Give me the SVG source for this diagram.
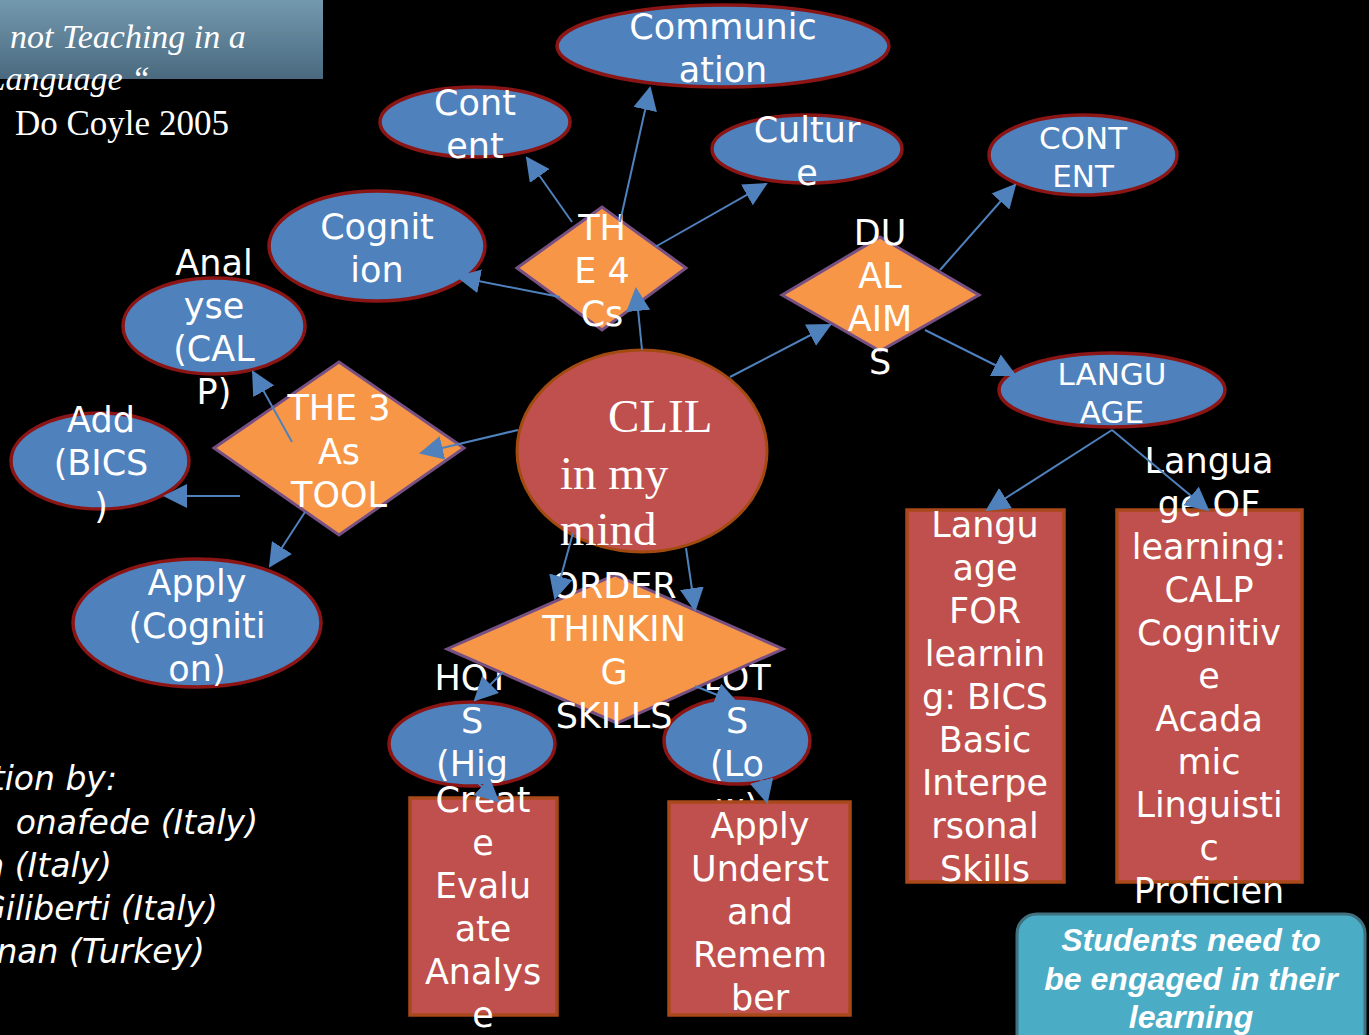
<svg xmlns="http://www.w3.org/2000/svg" width="1369" height="1035" viewBox="0 0 1369 1035">
<defs>
<linearGradient id="hdr" x1="0" y1="0" x2="0" y2="1">
<stop offset="0" stop-color="#7399ae"/>
<stop offset="1" stop-color="#4a697f"/>
</linearGradient>
<marker id="ah" markerWidth="12" markerHeight="12" refX="11" refY="6" orient="auto" markerUnits="strokeWidth">
<path d="M0,0 L12,6 L0,12 z" fill="#4f81bd"/>
</marker>
<style>
.t{font-family:"DejaVu Sans",sans-serif;fill:#fff;font-size:35px;text-anchor:middle}
.s{font-size:31px}
.ell{fill:#4f81bd;stroke:#8b1414;stroke-width:3.5}
.dia{fill:#f79646;stroke:#775083;stroke-width:3}
.box{fill:#c0504d;stroke:#a9481a;stroke-width:3.5}
.c line{stroke:#4f81bd;stroke-width:2;marker-end:url(#ah)}
.serif{font-family:"Liberation Serif",serif;fill:#fff}
.note{font-family:"DejaVu Sans",sans-serif;fill:#fff;font-size:33px;font-style:italic;text-anchor:end}
</style>
</defs>
<rect width="1369" height="1035" fill="#000"/>

<g id="header">
<rect x="0" y="0" width="323" height="79" fill="url(#hdr)"/>
<text class="serif" x="10" y="48" font-size="34" font-style="italic">not Teaching in a</text>
<text class="serif" x="150" y="90" font-size="34" font-style="italic" text-anchor="end">Language “</text>
<text class="serif" x="15" y="135" font-size="35">Do Coyle 2005</text>
</g>

<g id="credits">
<text class="note" x="117" y="790">tion by:</text>
<text class="note" x="258" y="834">onafede (Italy)</text>
<text class="note" x="112" y="877">a (Italy)</text>
<text class="note" x="218" y="920">Giliberti (Italy)</text>
<text class="note" x="205" y="963">nan (Turkey)</text>
</g>

<g id="communication">
<ellipse class="ell" cx="723" cy="46" rx="166" ry="41"/>
<text class="t" font-size="36"><tspan x="723" y="39">Communic</tspan><tspan x="723" y="82">ation</tspan></text>
</g>
<g id="content-top">
<ellipse class="ell" cx="475" cy="122" rx="95" ry="35"/>
<text class="t"><tspan x="475" y="115">Cont</tspan><tspan x="475" y="158">ent</tspan></text>
</g>
<g id="culture">
<ellipse class="ell" cx="807" cy="149" rx="95" ry="34"/>
<text class="t"><tspan x="807" y="142">Cultur</tspan><tspan x="807" y="185">e</tspan></text>
</g>
<g id="cognition">
<ellipse class="ell" cx="377" cy="246" rx="108" ry="55"/>
<text class="t" font-size="36"><tspan x="377" y="239">Cognit</tspan><tspan x="377" y="282">ion</tspan></text>
</g>
<g id="content-right">
<ellipse class="ell" cx="1083" cy="155" rx="94" ry="40"/>
<text class="t s"><tspan x="1083" y="149">CONT</tspan><tspan x="1083" y="187">ENT</tspan></text>
</g>
<g id="language">
<ellipse class="ell" cx="1112" cy="390" rx="113" ry="37"/>
<text class="t s"><tspan x="1112" y="385">LANGU</tspan><tspan x="1112" y="423">AGE</tspan></text>
</g>
<g id="analyse">
<ellipse class="ell" cx="214" cy="326" rx="91" ry="48"/>
<text class="t"><tspan x="214" y="275">Anal</tspan><tspan x="214" y="318">yse</tspan><tspan x="214" y="361">(CAL</tspan><tspan x="214" y="404">P)</tspan></text>
</g>
<g id="add">
<ellipse class="ell" cx="100" cy="461" rx="89" ry="48"/>
<text class="t"><tspan x="101" y="432">Add</tspan><tspan x="101" y="475">(BICS</tspan><tspan x="101" y="518">)</tspan></text>
</g>
<g id="apply-cog">
<ellipse class="ell" cx="197" cy="623" rx="124" ry="64"/>
<text class="t"><tspan x="197" y="595">Apply</tspan><tspan x="197" y="638">(Cogniti</tspan><tspan x="197" y="681">on)</tspan></text>
</g>
<g id="hots">
<ellipse class="ell" cx="472" cy="744" rx="83" ry="42"/>
<text class="t"><tspan x="472" y="690">HOT</tspan><tspan x="472" y="733">S</tspan><tspan x="472" y="776">(Hig</tspan></text>
</g>
<g id="lots">
<ellipse class="ell" cx="737" cy="741" rx="73" ry="43"/>
<text class="t"><tspan x="737" y="690">LOT</tspan><tspan x="737" y="733">S</tspan><tspan x="737" y="776">(Lo</tspan><tspan x="737" y="819">w)</tspan></text>
</g>

<g id="the4cs">
<polygon class="dia" points="517,268 602,207 686,268 602,330"/>
<text class="t"><tspan x="602" y="240">TH</tspan><tspan x="602" y="283">E 4</tspan><tspan x="602" y="326">Cs</tspan></text>
</g>
<g id="dualaims">
<polygon class="dia" points="782,295 880,237 979,295 880,351"/>
<text class="t"><tspan x="880" y="245">DU</tspan><tspan x="880" y="288">AL</tspan><tspan x="880" y="331">AIM</tspan><tspan x="880" y="374">S</tspan></text>
</g>
<g id="the3as">
<polygon class="dia" points="214,448 339,362 464,448 339,535"/>
<text class="t"><tspan x="339" y="420">THE 3</tspan><tspan x="339" y="464">As</tspan><tspan x="339" y="507">TOOL</tspan></text>
</g>
<g id="order">
<polygon class="dia" points="447,649 615,575 783,649 617,723"/>
<text class="t"><tspan x="614" y="598">ORDER</tspan><tspan x="614" y="641">THINKIN</tspan><tspan x="614" y="684">G</tspan><tspan x="614" y="728">SKILLS</tspan></text>
</g>

<g id="clil">
<ellipse cx="642" cy="451" rx="125" ry="101" fill="#c0504d" stroke="#a24a10" stroke-width="3"/>
<text class="serif" font-size="47"><tspan x="608" y="432">CLIL</tspan><tspan x="560" y="489">in my</tspan><tspan x="560" y="545">mind</tspan></text>
</g>

<g id="create-box">
<rect class="box" x="410" y="798" width="147" height="217"/>
<text class="t"><tspan x="483" y="812">Creat</tspan><tspan x="483" y="855">e</tspan><tspan x="483" y="898">Evalu</tspan><tspan x="483" y="941">ate</tspan><tspan x="483" y="984">Analys</tspan><tspan x="483" y="1027">e</tspan></text>
</g>
<g id="apply-box">
<rect class="box" x="669" y="802" width="181" height="213"/>
<text class="t"><tspan x="760" y="838">Apply</tspan><tspan x="760" y="881">Underst</tspan><tspan x="760" y="924">and</tspan><tspan x="760" y="967">Remem</tspan><tspan x="760" y="1010">ber</tspan></text>
</g>
<g id="lang-for">
<rect class="box" x="907" y="510" width="157" height="372"/>
<text class="t"><tspan x="985" y="537">Langu</tspan><tspan x="985" y="580">age</tspan><tspan x="985" y="623">FOR</tspan><tspan x="985" y="666">learnin</tspan><tspan x="985" y="709">g: BICS</tspan><tspan x="985" y="752">Basic</tspan><tspan x="985" y="795">Interpe</tspan><tspan x="985" y="838">rsonal</tspan><tspan x="985" y="881">Skills</tspan></text>
</g>
<g id="lang-of">
<rect class="box" x="1117" y="510" width="185" height="372"/>
<text class="t"><tspan x="1209" y="473">Langua</tspan><tspan x="1209" y="516">ge OF</tspan><tspan x="1209" y="559">learning:</tspan><tspan x="1209" y="602">CALP</tspan><tspan x="1209" y="645">Cognitiv</tspan><tspan x="1209" y="688">e</tspan><tspan x="1209" y="731">Acada</tspan><tspan x="1209" y="774">mic</tspan><tspan x="1209" y="817">Linguisti</tspan><tspan x="1209" y="860">c</tspan><tspan x="1209" y="903">Proficien</tspan></text>
</g>

<g id="students">
<rect x="1017" y="914" width="348" height="140" rx="20" fill="#4bacc6" stroke="#41707f" stroke-width="3"/>
<text font-family="'Liberation Sans',Arial,sans-serif" fill="#fff" text-anchor="middle" font-size="32" font-weight="bold" font-style="italic"><tspan x="1191" y="951">Students need to</tspan><tspan x="1191" y="990">be engaged in their</tspan><tspan x="1191" y="1028">learning</tspan></text>
</g>

<g id="connectors" class="c">
<line x1="572" y1="222" x2="527" y2="158"/>
<line x1="620" y1="222" x2="650" y2="88"/>
<line x1="655" y1="247" x2="766" y2="184"/>
<line x1="560" y1="297" x2="458" y2="277"/>
<line x1="642" y1="350" x2="636" y2="289"/>
<line x1="730" y1="377" x2="830" y2="325"/>
<line x1="940" y1="270" x2="1015" y2="185"/>
<line x1="925" y1="330" x2="1015" y2="375"/>
<line x1="518" y1="430" x2="421" y2="453"/>
<line x1="292" y1="442" x2="253" y2="372"/>
<line x1="240" y1="496" x2="165" y2="496"/>
<line x1="305" y1="512" x2="270" y2="566"/>
<line x1="573" y1="533" x2="555" y2="598"/>
<line x1="686" y1="548" x2="695" y2="610"/>
<line x1="503" y1="672" x2="475" y2="700"/>
<line x1="695" y1="686" x2="737" y2="703"/>
<line x1="478" y1="783" x2="498" y2="801"/>
<line x1="760" y1="775" x2="767" y2="802"/>
<line x1="1112" y1="430" x2="987" y2="510"/>
<line x1="1112" y1="430" x2="1208" y2="510"/>
</g>
</svg>
